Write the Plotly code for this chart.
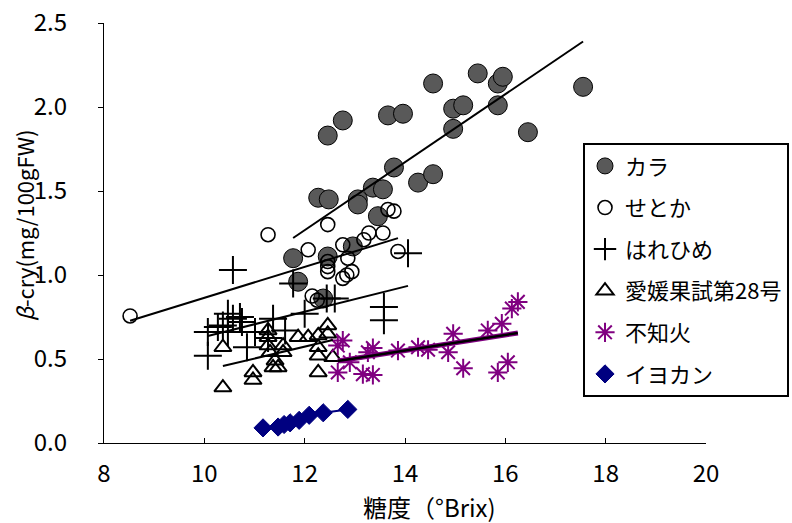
import numpy as np
import plotly.graph_objects as go

# ---- data ----
kara_x = [12.46, 12.76, 13.66, 13.96, 14.56, 14.96, 15.16, 15.45, 15.85, 15.95, 15.85, 14.96, 16.45, 17.55,
          13.78, 14.26, 14.56, 13.36, 13.56, 12.27, 12.48, 13.06, 13.06, 13.46, 12.96, 11.77, 12.46, 11.87, 12.37]
kara_y = [1.83, 1.92, 1.95, 1.96, 2.14, 1.99, 2.01, 2.20, 2.14, 2.18, 2.01, 1.87, 1.85, 2.12,
          1.64, 1.55, 1.60, 1.52, 1.51, 1.46, 1.45, 1.45, 1.42, 1.35, 1.17, 1.10, 1.11, 0.96, 0.86]

setoka_x = [8.52, 11.27, 12.46, 12.07, 12.76, 13.18, 13.28, 13.56, 13.66, 13.78, 13.86, 12.46, 12.46, 12.46,
            12.86, 12.76, 12.84, 12.94, 12.15, 12.25]
setoka_y = [0.756, 1.24, 1.30, 1.15, 1.18, 1.21, 1.25, 1.25, 1.39, 1.38, 1.14, 1.08, 1.05, 1.02,
            1.10, 0.98, 1.00, 1.02, 0.875, 0.85]

hare_x = [10.07, 10.07, 10.27, 10.37, 10.47, 10.57, 10.71, 10.57, 10.47, 10.75, 10.85, 11.01, 11.27, 11.37,
          11.61, 11.77, 12.00, 12.44, 12.60, 13.58, 13.58, 14.06]
hare_y = [0.52, 0.66, 0.69, 0.70, 0.77, 0.74, 0.75, 1.03, 0.66, 0.72, 0.57, 0.66, 0.625, 0.74,
          0.67, 0.95, 0.77, 0.86, 0.86, 0.81, 0.73, 1.13]

ehime_x = [10.37, 10.37, 10.97, 10.97, 11.27, 11.27, 11.27, 11.31, 11.57, 11.57, 11.37, 11.47, 11.41, 11.87,
           12.07, 12.27, 12.46, 12.46, 12.27, 12.27, 12.27, 12.56]
ehime_y = [0.33, 0.57, 0.42, 0.375, 0.67, 0.63, 0.58, 0.54, 0.58, 0.54, 0.45, 0.45, 0.49, 0.63,
           0.63, 0.64, 0.70, 0.65, 0.57, 0.52, 0.42, 0.51]

shira_x = [12.66, 12.76, 12.66, 12.90, 13.16, 13.36, 13.26, 13.36, 13.86, 14.26, 14.46, 14.86, 14.96, 15.16,
           15.65, 15.93, 15.85, 16.05, 16.13, 16.25]
shira_y = [0.58, 0.61, 0.42, 0.48, 0.41, 0.405, 0.54, 0.565, 0.55, 0.57, 0.555, 0.54, 0.65, 0.445,
           0.67, 0.71, 0.42, 0.48, 0.80, 0.84]

iyo_x = [11.17, 11.47, 11.59, 11.71, 11.89, 12.09, 12.37, 12.86]
iyo_y = [0.09, 0.095, 0.11, 0.12, 0.135, 0.165, 0.18, 0.20]

# linear trend coefficients (slope, intercept)
kara_fit = [0.2024, -1.162]
setoka_fit = [0.0921, -0.057]
hare_fit = [0.0747, -0.115]
ehime_fit = [0.0708, -0.276]
shira_fit = [0.0465, -0.101]

names = ["カラ", "せとか", "はれひめ", "愛媛果試第28号", "不知火", "イヨカン"]
x_title = "糖度（°Brix)"
y_title = "<i>β</i>-cry(mg/100gFW)"

fig = go.Figure()

def add_pts(x, y, name, rank, marker):
    fig.add_trace(go.Scatter(x=x, y=y, mode="markers", name=name, marker=marker,
                             legendgroup=name, legendrank=rank, showlegend=True))

add_pts(kara_x, kara_y, names[0], 1,
        dict(symbol="circle", size=19, color="#595959", line=dict(color="black", width=1)))
add_pts(setoka_x, setoka_y, names[1], 2,
        dict(symbol="circle-open", size=14, color="black", line=dict(color="black", width=1.6)))
add_pts(hare_x, hare_y, names[2], 3,
        dict(symbol="cross-thin-open", size=20, color="black", line=dict(color="black", width=2)))
add_pts(ehime_x, ehime_y, names[3], 4,
        dict(symbol="triangle-up-open", size=15, color="black", line=dict(color="black", width=2)))
add_pts(shira_x, shira_y, names[4], 5,
        dict(symbol="asterisk-open", size=16, color="#800080", line=dict(color="#800080", width=2)))

order = np.argsort(iyo_x)
fig.add_trace(go.Scatter(x=np.array(iyo_x)[order], y=np.array(iyo_y)[order], mode="lines",
                         line=dict(color="#000080", width=2), showlegend=False, hoverinfo="skip"))
add_pts(iyo_x, iyo_y, names[5], 6,
        dict(symbol="diamond", size=14, color="#000080", line=dict(color="#000080", width=1)))

def add_fit(xs, coef, color="black", width=2):
    xr = np.array([min(xs), max(xs)])
    fig.add_trace(go.Scatter(x=xr, y=coef[0] * xr + coef[1], mode="lines",
                             line=dict(color=color, width=width), showlegend=False, hoverinfo="skip"))

add_fit(kara_x, kara_fit)
add_fit(setoka_x, setoka_fit)
add_fit(hare_x, hare_fit)
add_fit(ehime_x, ehime_fit)
add_fit(shira_x, shira_fit, color="#800080", width=5)
add_fit(shira_x, shira_fit, color="black", width=2.5)

tickfont = dict(family="Noto Sans CJK JP", size=24, color="black")
fig.update_layout(
    width=792, height=523,
    margin=dict(l=104, r=86, t=23, b=80, autoexpand=False),
    paper_bgcolor="white", plot_bgcolor="white",
    font=dict(family="Noto Sans CJK JP", color="black"),
    showlegend=True,
    legend=dict(x=0.7957, y=0.714, xanchor="left", yanchor="top",
                bgcolor="white", bordercolor="black", borderwidth=2,
                font=dict(family="Noto Sans CJK JP", size=22, color="black"),
                tracegroupgap=10, itemsizing="trace"),
    xaxis=dict(range=[8, 20], dtick=2, tick0=8, showgrid=False, zeroline=False, automargin=False,
               showline=True, linecolor="black", linewidth=1.2,
               ticks="inside", ticklen=5, tickcolor="black", tickfont=tickfont,
               ticklabelstandoff=9, ticklabeloverflow="allow"),
    yaxis=dict(range=[0, 2.5], dtick=0.5, tick0=0, tickformat=".1f", showgrid=False, zeroline=False,
               automargin=False,
               showline=True, linecolor="black", linewidth=1.2,
               ticks="outside", ticklen=5, tickcolor="black", tickfont=tickfont,
               ticklabelstandoff=26, ticklabeloverflow="allow"),
    annotations=[
        dict(text=x_title, xref="paper", yref="paper", x=0.5415, y=-0.152,
             xanchor="center", yanchor="middle", showarrow=False,
             font=dict(family="Noto Sans CJK JP", size=24, color="black")),
        dict(text=y_title, xref="paper", yref="paper", x=-0.133, y=0.519,
             xanchor="center", yanchor="middle", showarrow=False, textangle=-90,
             font=dict(family="Noto Sans CJK JP", size=22, color="black")),
    ],
)

fig.write_html("out.html", config={"displayModeBar": False},
               post_script="document.body.style.margin='0';")
